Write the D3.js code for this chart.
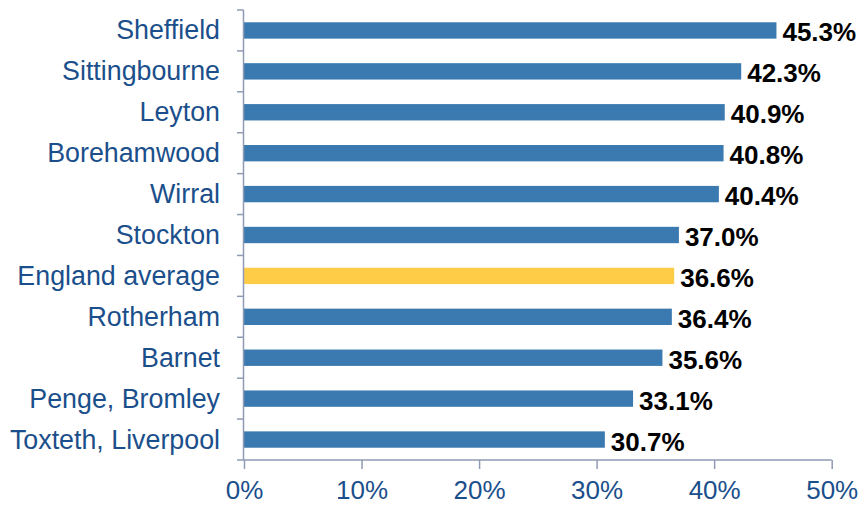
<!DOCTYPE html>
<html>
<head>
<meta charset="utf-8">
<script src="https://cdn.jsdelivr.net/npm/d3@7"></script>
<style>
  html, body { margin: 0; padding: 0; background: #fff; }
  svg { display: block; font-family: "Liberation Sans", Arial, sans-serif; }
</style>
</head>
<body>
<svg id="chart" width="858" height="506"></svg>
<script>
// Share of respondents by area, with the England average highlighted
const areas = ["Sheffield", "Sittingbourne", "Leyton", "Borehamwood", "Wirral", "Stockton",
               "England average", "Rotherham", "Barnet", "Penge, Bromley", "Toxteth, Liverpool"];
const shares = [45.3, 42.3, 40.9, 40.8, 40.4, 37.0, 36.6, 36.4, 35.6, 33.1, 30.7];
const xTicks = [0, 10, 20, 30, 40, 50];
const highlight = "England average";

const svg = d3.select("#chart");
const plotLeft = 244, plotRight = 831.7, plotTop = 10, plotBottom = 460;

const x = d3.scaleLinear().domain([0, 50]).range([plotLeft, plotRight]);
const y = d3.scaleBand().domain(areas).range([plotTop, plotBottom]).paddingInner(0.6).paddingOuter(0.3);

const axisColor = "#8F9AB4";
const labelColor = "#1B4F8B";

// Bars
svg.append("g").selectAll("rect").data(areas).join("rect")
  .attr("x", x(0))
  .attr("y", d => y(d))
  .attr("width", (d, i) => x(shares[i]) - x(0))
  .attr("height", y.bandwidth())
  .attr("fill", d => d === highlight ? "#FFCC47" : "#3B7AB0");

// Value labels
svg.append("g").selectAll("text").data(areas).join("text")
  .attr("x", (d, i) => x(shares[i]) + 6)
  .attr("y", d => y(d) + y.bandwidth() / 2 + 2)
  .attr("dominant-baseline", "central")
  .attr("font-size", 26)
  .attr("font-weight", "bold")
  .attr("fill", "#000")
  .text((d, i) => shares[i].toFixed(1) + "%");

// Category axis: line with ticks on band boundaries
const step = (plotBottom - plotTop) / areas.length;
const yAxis = svg.append("g");
yAxis.append("line")
  .attr("x1", plotLeft - 0.5).attr("x2", plotLeft - 0.5)
  .attr("y1", plotTop).attr("y2", plotBottom)
  .attr("stroke", axisColor).attr("stroke-width", 1.5);
yAxis.selectAll("line.tick").data(d3.range(areas.length)).join("line")
  .attr("class", "tick")
  .attr("x1", plotLeft - 7).attr("x2", plotLeft - 0.5)
  .attr("y1", i => plotTop + i * step).attr("y2", i => plotTop + i * step)
  .attr("stroke", axisColor).attr("stroke-width", 1.5);
yAxis.selectAll("text").data(areas).join("text")
  .attr("x", 220)
  .attr("y", d => y(d) + y.bandwidth() / 2)
  .attr("dominant-baseline", "central")
  .attr("text-anchor", "end")
  .attr("font-size", 26.8)
  .attr("fill", labelColor)
  .text(d => d);

// Value axis
const xAxis = svg.append("g").attr("transform", `translate(0,${plotBottom})`)
  .call(d3.axisBottom(x).tickValues(xTicks).tickFormat(d => d + "%").tickSize(9).tickPadding(12));
xAxis.select(".domain").attr("stroke", axisColor).attr("stroke-width", 1.5)
  .attr("d", `M${plotLeft - 7},0H${plotRight}`);
xAxis.selectAll(".tick line").attr("stroke", axisColor).attr("stroke-width", 1.5);
xAxis.selectAll(".tick text")
  .attr("font-size", 26)
  .attr("font-family", "'Liberation Sans', Arial, sans-serif")
  .attr("fill", labelColor);
</script>
</body>
</html>
